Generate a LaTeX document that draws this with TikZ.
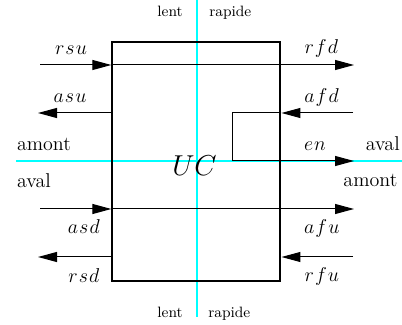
\documentclass[tikz,border=0pt]{standalone}
\usepackage{amsmath}
\usetikzlibrary{arrows.meta,positioning}
\definecolor{axiscyan}{RGB}{0,255,255}
\tikzset{
  unit/.style={rectangle, draw, line width=1.2pt, minimum width=100.9pt, minimum height=143.6pt, inner sep=0pt},
  sig/.style={font=\large, inner sep=0pt, anchor=base},
  side/.style={font=\large, inner sep=0pt},
  speed/.style={font=\small, inner sep=0pt},
  arr/.style={-{Triangle[length=11.4pt,width=6pt]}, line width=0.6pt},
  axis/.style={axiscyan, line width=0.8pt}
}
\newcommand\sig[3]{$#1\mkern1mu#2\mkern1mu#3$}

\begin{document}
\begin{tikzpicture}[x=0.6pt,y=-0.6pt]
\useasboundingbox (0,0) rectangle (402,325);

% lent / rapide and amont / aval axes
\coordinate (top) at (197,0);
\coordinate (bot) at (197,317);
\coordinate (west) at (16,161);
\coordinate (east) at (402,161);
\draw[axis] (top) -- (bot);
\draw[axis] (west) -- (east);

\node[unit] (box) at (196.4,161.4) {};
\node[font=\LARGE, inner sep=0pt, anchor=base] (uc) at (194.5,176) {$UC$};

\node[speed, anchor=base east] (lent-t) at (183,17) {lent};
\node[speed, anchor=base west] (rapide-t) at (209,17) {rapide};
\node[speed, anchor=base east] (lent-b) at (183,317) {lent};
\node[speed, anchor=base west] (rapide-b) at (208,317) {rapide};

\node[side, anchor=base west] (amont-l) at (16.7,150.7) {amont};
\node[side, anchor=base west] (aval-l) at (16.7,187.3) {aval};
\node[side, anchor=base east] (aval-r) at (400,150.7) {aval};
\node[side, anchor=base east] (amont-r) at (397.7,186.7) {amont};

% signal ends
\coordinate (rsu) at (40,65);
\coordinate (rfd) at (354,65);
\coordinate (asu) at (38,113);
\coordinate (afd) at (353,113);
\coordinate (loop) at (232.5,113);
\coordinate (en) at (354,161);
\coordinate (asd) at (40,209);
\coordinate (afu) at (354,209);
\coordinate (rsd) at (38,257);
\coordinate (rfu) at (353,257);

\draw[arr] (rsu) -- (rsu -| box.west);
\draw[arr] (rsu -| box.west) -- (rfd);
\draw[arr] (asu -| box.west) -- (asu);
\draw[arr] (afd) -- (afd -| box.east);
\draw[arr] (afd -| box.east) -- (loop) |- (en);
\draw[arr] (asd) -- (asd -| box.west);
\draw[arr] (asd -| box.west) -- (afu);
\draw[arr] (rsd -| box.west) -- (rsd);
\draw[arr] (rfu) -- (rfu -| box.east);

\node[sig] (l-rsu) at (71,55) {\sig{r}{s}{u}};
\node[sig] (l-asu) at (70,102.7) {\sig{a}{s}{u}};
\node[sig] (l-rfd) at (321.3,54) {\sig{r}{f}{d}};
\node[sig] (l-afd) at (321.5,102.7) {\sig{a}{f}{d}};
\node[sig] (l-en) at (315,150.7) {$e\mkern1mu n$};
\node[sig] (l-asd) at (83.8,234) {\sig{a}{s}{d}};
\node[sig] (l-rsd) at (83.8,282) {\sig{r}{s}{d}};
\node[sig] (l-afu) at (321.8,234) {\sig{a}{f}{u}};
\node[sig] (l-rfu) at (321.8,281.7) {\sig{r}{f}{u}};
\end{tikzpicture}
\end{document}
